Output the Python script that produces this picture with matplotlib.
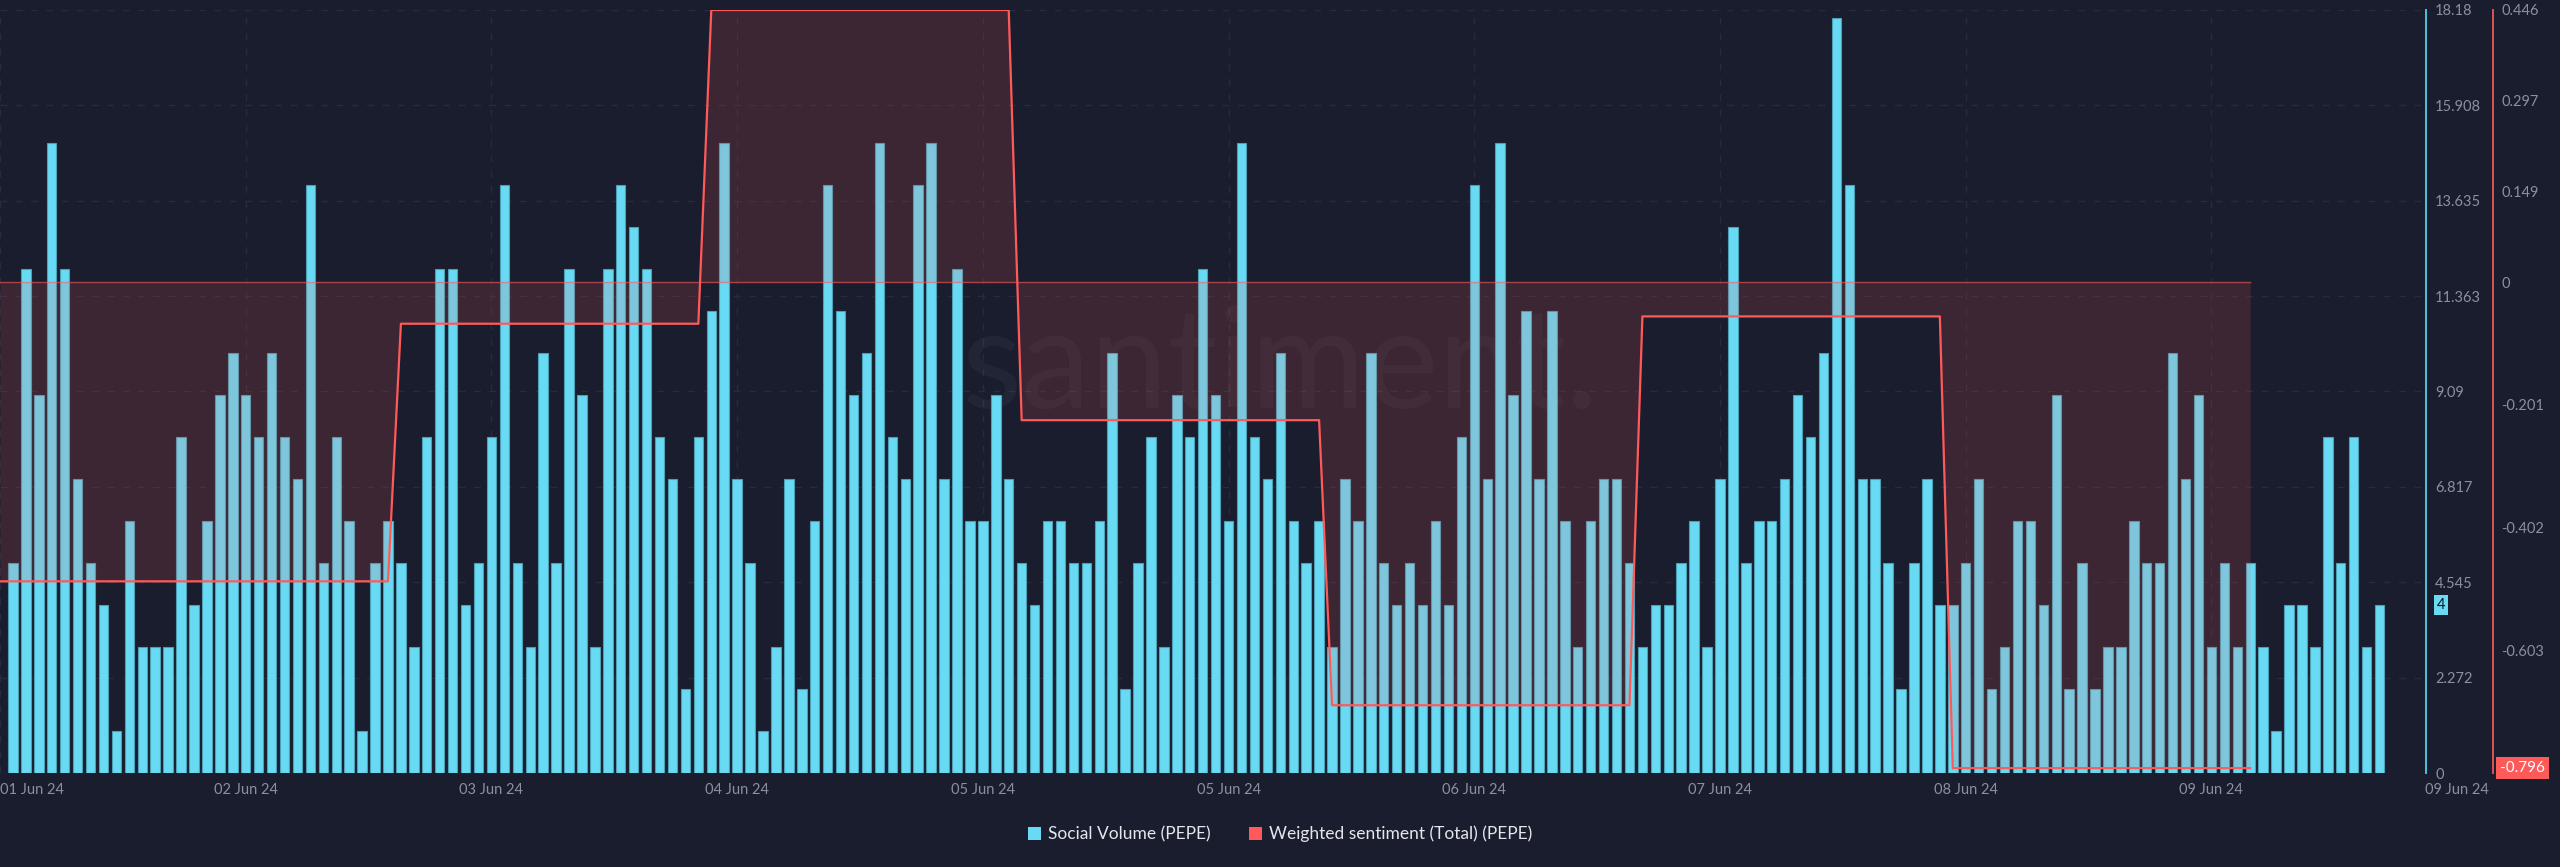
import matplotlib
matplotlib.use("Agg")
import matplotlib.pyplot as plt
from matplotlib.patches import Patch
import matplotlib.transforms as mtransforms

plt.rcParams['font.family'] = ['Lato', 'DejaVu Sans']

# hourly social volume (PEPE)
volume = [5, 12, 9, 15, 12, 7, 5, 4, 1, 6, 3, 3, 3, 8, 4, 6, 9, 10, 9, 8,
          10, 8, 7, 14, 5, 8, 6, 1, 5, 6, 5, 3, 8, 12, 12, 4, 5, 8, 14, 5,
          3, 10, 5, 12, 9, 3, 12,
          14, 13, 12, 8, 7, 2, 8, 11, 15, 7, 5, 1, 3, 7, 2, 6, 14, 11, 9, 10,
          15, 8, 7, 14, 15, 7, 12, 6, 6, 9, 7, 5, 4, 6, 6, 5, 5, 6, 10, 2,
          5, 8, 3, 9, 8, 12,
          9, 6, 15, 8, 7, 10, 6, 5, 6, 3, 7, 6, 10, 5, 4, 5, 4, 6, 4, 8,
          14, 7, 15, 9, 11, 7, 11, 6, 3, 6, 7, 7, 5, 3, 4, 4, 5, 6, 3, 7,
          13, 5, 6, 6, 7, 9,
          8, 10, 18, 14, 7, 7, 5, 2, 5, 7, 4, 4, 5, 7, 2, 3, 6, 6, 4, 9,
          2, 5, 2, 3, 3, 6, 5, 5, 10, 7, 9, 3, 5, 3, 5, 3, 1, 4, 4, 3,
          8, 5, 8, 3, 4]
hours = list(range(len(volume)))

# weighted sentiment, one level per day (hour index, value)
sent_hours = [-1, 29, 30, 53, 54, 77, 78, 101, 102, 125, 126, 149, 150, 173]
sent_vals = [-0.490, -0.490, -0.068, -0.068, 0.446, 0.446, -0.226, -0.226,
             -0.693, -0.693, -0.056, -0.056, -0.796, -0.796]

tick_hours = [-1, 18, 37, 56, 75, 94, 113, 132, 151, 170]
tick_labels = ['01 Jun 24', '02 Jun 24', '03 Jun 24', '04 Jun 24', '05 Jun 24',
               '05 Jun 24', '06 Jun 24', '07 Jun 24', '08 Jun 24', '09 Jun 24']
last_tick_hour = 189
last_tick_label = '09 Jun 24'

vol_ticks = [0, 2.272, 4.545, 6.817, 9.09, 11.363, 13.635, 15.908, 18.18]
vol_labels = ['0', '2.272', '4.545', '6.817', '9.09', '11.363', '13.635', '15.908', '18.18']
sent_ticks = [-0.804, -0.603, -0.402, -0.201, 0, 0.149, 0.297, 0.446]
sent_labels = ['-0.804', '-0.603', '-0.402', '-0.201', '0', '0.149', '0.297', '0.446']

bg = '#1a1d2d'
blue = '#68daf3'
red = '#ff5a5a'
grey = '#8a8fa2'
gridc = '#272b3c'

fig = plt.figure(figsize=(25.6, 8.67), dpi=100, facecolor=bg)
ax = fig.add_axes([0.0, 0.1084, 0.9477, 0.8801])
ax.set_facecolor(bg)
ax2 = ax.twinx()

ax.bar(hours, volume, width=0.73, color=blue, edgecolor='#4b9fb7', linewidth=0.8, zorder=2)
ax.set_xlim(-1, 186.6)
ax.set_ylim(0, 18.18)

ax.yaxis.tick_right()
ax.yaxis.set_label_position('right')
ax.set_yticks(vol_ticks)
ax.set_yticklabels(vol_labels)
ax.set_xticks(tick_hours)
ax.set_xticklabels(tick_labels)
first = ax.get_xticklabels()[0]
first.set_ha('left')
first.set_transform(first.get_transform() + mtransforms.ScaledTranslation(0.07, 0, fig.dpi_scale_trans))
ax.tick_params(axis='both', length=0, colors=grey, labelsize=10.5)
ax.tick_params(axis='y', pad=6.5)
ax.tick_params(axis='x', pad=7)
ax.grid(True, color=gridc, linestyle=(0, (5, 6)), linewidth=1, zorder=0)
ax.set_axisbelow(True)
for s in ['top', 'left', 'bottom']:
    ax.spines[s].set_visible(False)
ax.spines['right'].set_color('#4cc3de')
ax.spines['right'].set_linewidth(1.4)

trans = mtransforms.blended_transform_factory(ax.transData, ax.transAxes)
ax.text(last_tick_hour, -0.0125, last_tick_label, transform=trans, ha='center', va='top',
        color=grey, fontsize=10.5, clip_on=False)

# watermark
ax.text(0.5276, 0.53, 'santiment.', transform=ax.transAxes, ha='center', va='center',
        fontsize=100, color='#ffffff', alpha=0.04, zorder=1)

ax2.set_ylim(-0.804, 0.446)
ax2.fill_between(sent_hours, sent_vals, 0, color=red, alpha=0.15, linewidth=0, zorder=3)
ax2.plot([sent_hours[0], sent_hours[-1]], [0, 0], color=red, linewidth=1, alpha=0.6, zorder=3)
ax2.plot(sent_hours, sent_vals, color=red, linewidth=1.6, zorder=4)
ax2.set_yticks(sent_ticks)
ax2.set_yticklabels(sent_labels)
ax2.tick_params(axis='y', length=0, colors=grey, labelsize=10.5, pad=6)
for s in ['top', 'left', 'bottom']:
    ax2.spines[s].set_visible(False)
ax2.spines['right'].set_position(('outward', 48.2))
ax2.spines['right'].set_color('#e05252')
ax2.spines['right'].set_linewidth(1.4)

# current value badges
ax2.text(1.0045, volume[-1] / 18.18, str(volume[-1]), transform=ax2.transAxes,
         ha='left', va='center', fontsize=10.5, color='#101320', clip_on=False,
         bbox=dict(boxstyle='square,pad=0.2', facecolor=blue, edgecolor='none'), zorder=6)
ax2.text(1.0305, sent_vals[-1], '%.3f' % sent_vals[-1], transform=ax2.get_yaxis_transform(),
         ha='left', va='center', fontsize=11, color='white', clip_on=False,
         bbox=dict(boxstyle='square,pad=0.25', facecolor=red, edgecolor='none'), zorder=6)

handles = [Patch(facecolor=blue, edgecolor='none'), Patch(facecolor=red, edgecolor='none')]
fig.legend(handles, ['Social Volume (PEPE)', 'Weighted sentiment (Total) (PEPE)'],
           loc='center', bbox_to_anchor=(0.5, 0.038), ncol=2, frameon=False,
           handlelength=0.75, handleheight=0.75, handletextpad=0.4, columnspacing=2.2,
           fontsize=12.5, labelcolor='#e4e6ee')

fig.savefig('out.png', dpi=100, facecolor=bg)
